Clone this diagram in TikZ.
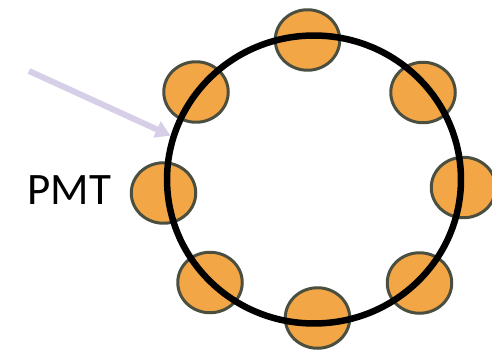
\documentclass[tikz,border=0pt]{standalone}
\usepackage{fontspec}
\setmainfont{Carlito}
\usetikzlibrary{shapes.geometric,arrows.meta}
\definecolor{pmtorange}{HTML}{F3A646}
\definecolor{pmtedge}{HTML}{4A4F3F}
\definecolor{beamlilac}{HTML}{D7CEE7}
\begin{document}
\begin{tikzpicture}[x=0.02cm, y=-0.02cm,
  pmt node/.style={ellipse,draw=pmtedge,fill=pmtorange,line width=0.06cm,minimum width=1.29cm,minimum height=1.21cm,inner sep=0pt},
  ring node/.style={ellipse,draw=black,line width=0.13cm,minimum width=5.88cm,minimum height=5.76cm,inner sep=0pt}]
\useasboundingbox (0,0) rectangle (492,351);
% photomultipliers around the ring
\node [pmt node](p1) at (307.5,40) {};
\node [pmt node](p2) at (423,92.5) {};
\node [pmt node](p3) at (463.5,187.5) {};
\node [pmt node](p4) at (419.5,283) {};
\node [pmt node](p5) at (317.5,318) {};
\node [pmt node](p6) at (210,282.5) {};
\node [pmt node](p7) at (163.5,193) {};
\node [pmt node](p8) at (196,92) {};
% the ring goes on top
\node [ring node](ring) at (314,179.5) {};
\node [anchor=base west,inner sep=0pt,font=\fontsize{25.6}{30}\selectfont](lbl) at (27,204) {PMT};
\coordinate (src) at (29,71);
\draw [beamlilac,line width=0.12cm,-{Triangle[length=0.3cm,width=0.34cm]}] (src) -- (ring.163);
\end{tikzpicture}
\end{document}
